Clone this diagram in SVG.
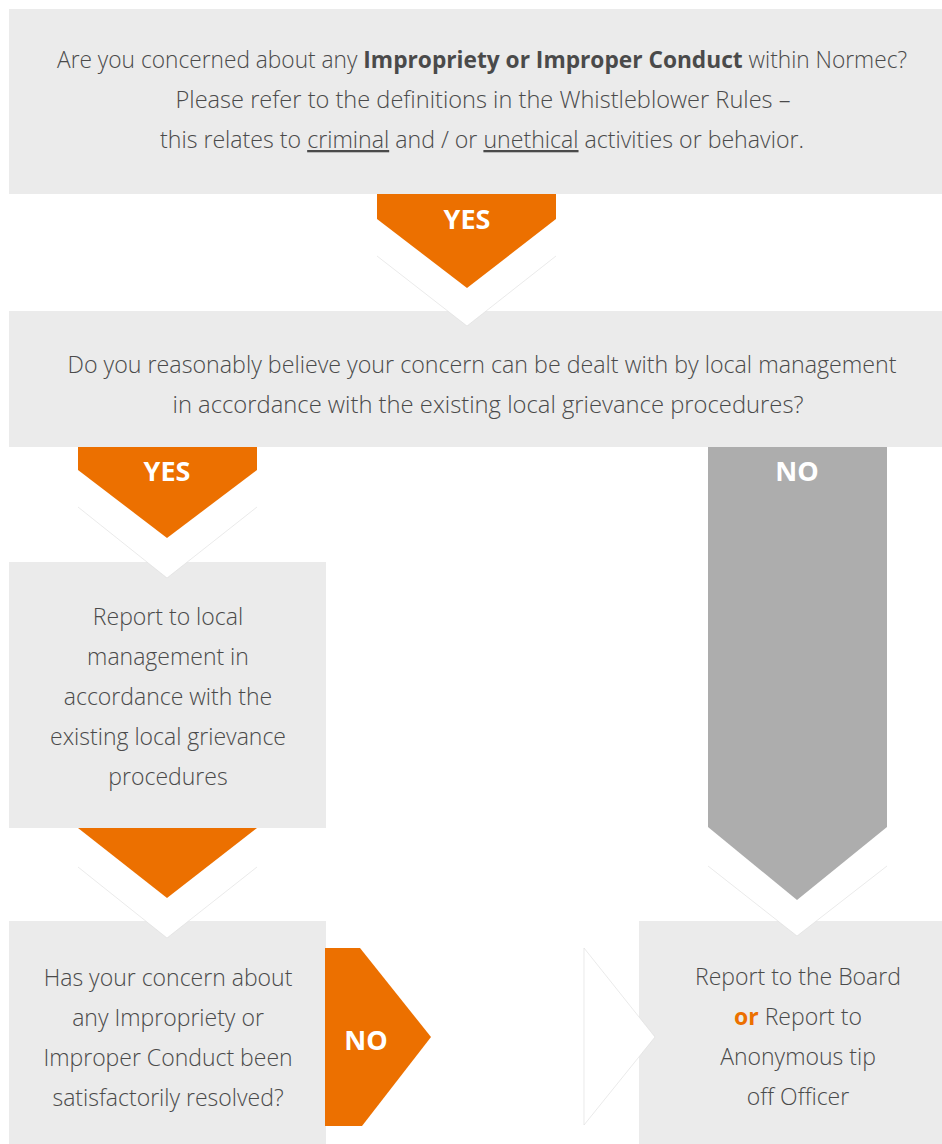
<svg xmlns="http://www.w3.org/2000/svg" width="942" height="1144" viewBox="0 0 942 1144">
<style>
.box{fill:#ebebeb}
.t{font-family:"Open Sans","Liberation Sans",sans-serif;font-weight:300;fill:#4a4a4a;text-anchor:middle}
.t22{font-size:23px}
.t23{font-size:23px}
.b{font-weight:700}
.lab{font-family:"Open Sans","Liberation Sans",sans-serif;font-weight:700;fill:#fff;text-anchor:middle;font-size:27px}
.or{fill:#ec7000}
.gr{fill:#adadad}
.wh{fill:#fff}
.edge{fill:none;stroke:#dcdcdc;stroke-width:0.6}
</style>
<rect width="942" height="1144" fill="#fff"/>
<g id="q1">
<rect class="box" x="9" y="9" width="933" height="185"/>
<text class="t t22" x="482" y="68" textLength="850" lengthAdjust="spacingAndGlyphs">Are you concerned about any <tspan class="b">Impropriety or Improper Conduct</tspan> within Normec?</text>
<text class="t t22" x="483" y="108" textLength="615" lengthAdjust="spacingAndGlyphs">Please refer to the definitions in the Whistleblower Rules –</text>
<text class="t t22" x="482" y="148" textLength="644" lengthAdjust="spacingAndGlyphs">this relates to <tspan text-decoration="underline">criminal</tspan> and / or <tspan text-decoration="underline">unethical</tspan> activities or behavior.</text>
</g>
<g id="q2">
<rect class="box" x="9" y="311" width="933" height="136"/>
<text class="t t22" x="482" y="373" textLength="829" lengthAdjust="spacingAndGlyphs">Do you reasonably believe your concern can be dealt with by local management</text>
<text class="t t22" x="488" y="413" textLength="631" lengthAdjust="spacingAndGlyphs">in accordance with the existing local grievance procedures?</text>
</g>
<g id="local">
<rect class="box" x="9" y="562" width="317" height="266"/>
<text class="t t23" x="168" y="625">Report to local</text>
<text class="t t23" x="168" y="665">management in</text>
<text class="t t23" x="168" y="705">accordance with the</text>
<text class="t t23" x="168" y="745">existing local grievance</text>
<text class="t t23" x="168" y="785">procedures</text>
</g>
<g id="q3">
<rect class="box" x="9" y="921" width="317" height="223"/>
<text class="t t23" x="168" y="986">Has your concern about</text>
<text class="t t23" x="168" y="1026">any Impropriety or</text>
<text class="t t23" x="168" y="1066">Improper Conduct been</text>
<text class="t t23" x="168" y="1106">satisfactorily resolved?</text>
</g>
<g id="board">
<rect class="box" x="639" y="921" width="303" height="223"/>
<text class="t t23" x="798" y="985">Report to the Board</text>
<text class="t t23" x="798" y="1025"><tspan class="b" fill="#ec7000">or</tspan> Report to</text>
<text class="t t23" x="798" y="1065">Anonymous tip</text>
<text class="t t23" x="798" y="1105">off Officer</text>
</g>
<g id="connectors">
<g id="yes1">
<polygon class="wh" points="377,256 556,256 467,326"/>
<polyline class="edge" points="377,256 467,326 556,256"/>
<polygon class="or" points="377,194 556,194 556,219 467,288 377,219"/>
<text class="lab" x="467" y="229">YES</text>
</g>
<g id="yes2">
<polygon class="wh" points="78,507 257,507 167,578"/>
<polyline class="edge" points="78,507 167,578 257,507"/>
<polygon class="or" points="78,447 257,447 257,470 167,538 78,470"/>
<text class="lab" x="167" y="481">YES</text>
</g>
<g id="no1">
<polygon class="wh" points="708,866 887,866 797,936"/>
<polyline class="edge" points="708,866 797,936 887,866"/>
<polygon class="gr" points="708,447 887,447 887,827 797,900 708,827"/>
<text class="lab" x="797" y="481">NO</text>
</g>
<g id="down3">
<polygon class="wh" points="78,867 257,867 167,938"/>
<polyline class="edge" points="78,867 167,938 257,867"/>
<polygon class="or" points="78,828 257,828 167,898"/>
</g>
<g id="no2">
<polygon class="wh" points="584,948 655,1037 584,1125"/>
<polygon class="edge" points="584,948 655,1037 584,1125"/>
<polygon class="or" points="325,948 360,948 431,1037 362,1126 325,1126"/>
<text class="lab" x="366" y="1050">NO</text>
</g>
</g>
</svg>
